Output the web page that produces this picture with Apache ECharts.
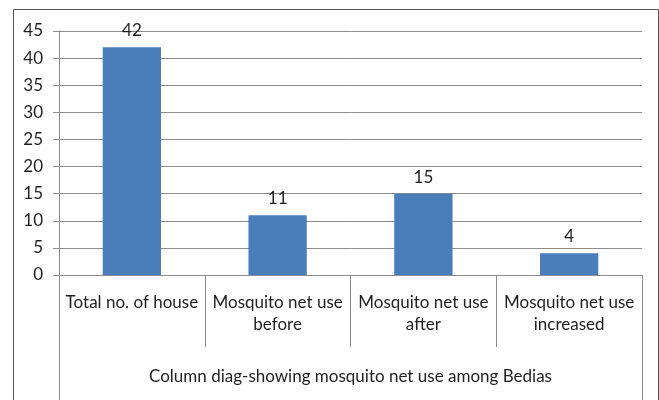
<!DOCTYPE html>
<html>
<head>
<meta charset="utf-8">
<script src="https://cdn.jsdelivr.net/npm/echarts@6/dist/echarts.min.js"></script>
<style>
  html, body { margin: 0; padding: 0; background: #fff; }
  #chart { width: 659px; height: 400px; }
</style>
</head>
<body>
<div id="chart"></div>
<script>
// Mosquito net use among Bedias households
const categories = [
  'Total no. of house',
  'Mosquito net use\nbefore',
  'Mosquito net use\nafter',
  'Mosquito net use\nincreased'
];
const values = [42, 11, 15, 4];
const groupTitle = ['Column diag-showing mosquito net use among Bedias'];
const yTicks = { min: 0, max: 45, interval: 5 };

const FONT = 'Lato, "Open Sans", sans-serif';
const TEXT = '#1f1f1f';
const LINE = '#8c8c8c';

const chart = echarts.init(document.getElementById('chart'), null, { renderer: 'canvas' });

chart.setOption({
  animation: false,
  backgroundColor: '#ffffff',
  textStyle: { fontFamily: FONT },
  grid: { left: 59, right: 17, top: 31, bottom: 125, containLabel: false },
  xAxis: [
    {
      type: 'category',
      data: categories,
      position: 'bottom',
      boundaryGap: true,
      axisLine: { show: true, lineStyle: { color: LINE, width: 1 } },
      axisTick: { show: true, interval: 0, length: 72, lineStyle: { color: LINE } },
      axisLabel: {
        interval: 0, margin: 17, color: TEXT, fontSize: 17,
        fontFamily: FONT, lineHeight: 22
      },
      splitLine: { show: false }
    },
    {
      type: 'category',
      data: groupTitle,
      position: 'bottom',
      boundaryGap: true,
      axisLine: { show: false },
      axisTick: { show: true, interval: 0, length: 130, lineStyle: { color: LINE } },
      axisLabel: { interval: 0, margin: 93, color: TEXT, fontSize: 17, fontFamily: FONT },
      splitLine: { show: false }
    }
  ],
  yAxis: {
    type: 'value',
    min: yTicks.min,
    max: yTicks.max,
    interval: yTicks.interval,
    axisLine: { show: true, lineStyle: { color: LINE } },
    axisTick: { show: true, length: 6, lineStyle: { color: LINE } },
    axisLabel: { color: TEXT, fontSize: 17, fontFamily: FONT, margin: 16 },
    splitLine: { show: true, lineStyle: { color: LINE, width: 1 } }
  },
  series: [
    {
      type: 'bar',
      xAxisIndex: 0,
      data: values,
      barWidth: '40%',
      itemStyle: { color: '#4a7ebb' },
      label: {
        show: true, position: 'top', distance: 8,
        color: TEXT, fontSize: 17, fontFamily: FONT
      }
    }
  ],
  graphic: [
    {
      type: 'rect',
      shape: { x: 13.5, y: 9.5, width: 645, height: 420 },
      style: { fill: 'none', stroke: '#555555', lineWidth: 1 },
      silent: true,
      z: 100
    }
  ]
});
</script>
</body>
</html>
